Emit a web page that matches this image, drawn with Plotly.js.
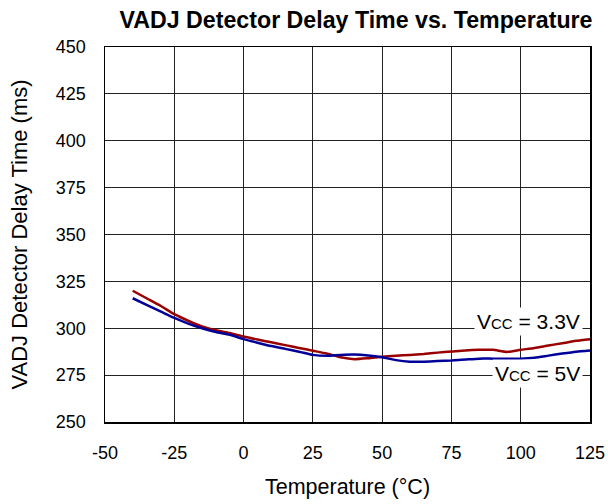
<!DOCTYPE html>
<html>
<head>
<meta charset="utf-8">
<script src="https://cdn.plot.ly/plotly-3.0.1.min.js"></script>
<style>html,body{margin:0;padding:0;background:#fff;}#chart{width:608px;height:504px;}</style>
</head>
<body>
<div id="chart"></div>
<script>
const temperature = [-40, -35, -30, -25, -20, -15, -10, -5, 0, 5, 10, 15, 20, 25, 30, 35, 40, 45, 50, 55, 60, 65, 70, 75, 80, 85, 90, 95, 100, 105, 110, 115, 120, 125];
const delay33 = [320, 316, 312, 307.5, 304, 301, 299, 297.5, 295.6, 294, 292.5, 291, 289.5, 288, 286.5, 284.5, 283.5, 284, 284.8, 285.3, 285.8, 286.3, 287, 287.6, 288.2, 288.5, 288.5, 287.4, 288.5, 289.5, 290.8, 292, 293.3, 294.2];
const delay5 = [316, 312.5, 309, 305.5, 302.5, 300, 298, 296.5, 294.2, 292.3, 290.5, 289, 287.5, 285.8, 285.3, 285.8, 286, 285.5, 284.5, 283, 282.2, 282.2, 282.5, 282.8, 283.3, 283.8, 283.8, 283.8, 283.8, 284.3, 285.4, 286.5, 287.5, 288.2];
const xTicks = [-50, -25, 0, 25, 50, 75, 100, 125];
const yTicks = [250, 275, 300, 325, 350, 375, 400, 425, 450];
const seriesNames = ['V<span style="font-size:15px">CC</span> = 3.3V', 'V<span style="font-size:15px">CC</span> = 5V'];

const FONT = 'Liberation Sans, Arial, sans-serif';

const traces = [
  {x: temperature, y: delay33, mode: 'lines', line: {color: '#990000', width: 2.5, shape: 'spline', smoothing: 0.6}, name: '3.3V', showlegend: false, hoverinfo: 'skip'},
  {x: temperature, y: delay5, mode: 'lines', line: {color: '#000099', width: 2.5, shape: 'spline', smoothing: 0.6}, name: '5V', showlegend: false, hoverinfo: 'skip'}
];

const axisCommon = {
  showline: true, linecolor: '#000', linewidth: 1.5, mirror: true,
  showgrid: true, gridcolor: '#222', gridwidth: 1,
  zeroline: false, ticks: '', fixedrange: true,
  tickfont: {family: FONT, size: 18, color: '#000'}
};

const layout = {
  width: 608, height: 504,
  paper_bgcolor: '#fff', plot_bgcolor: '#fff',
  margin: {l: 105, r: 18, t: 47, b: 82},
  title: {text: '<b>VADJ Detector Delay Time vs. Temperature</b>', font: {family: FONT, size: 23.2, color: '#000'}, x: 356/608, xanchor: 'center', xref: 'container', y: 1 - 20/504, yanchor: 'middle', yref: 'container'},
  xaxis: Object.assign({}, axisCommon, {
    range: [-50, 125], tickvals: xTicks, ticktext: xTicks.map(String), ticklabelstandoff: 14,
    title: {text: 'Temperature (°C)', font: {family: FONT, size: 21.5, color: '#000'}, standoff: 17}
  }),
  yaxis: Object.assign({}, axisCommon, {
    range: [250, 450], tickvals: yTicks, ticktext: yTicks.map(String), ticklabelstandoff: 14,
    title: {text: 'VADJ Detector Delay Time (ms)', font: {family: FONT, size: 22, color: '#000'}, standoff: 22}
  }),
  annotations: [
    {x: 122.5, y: 303.4, xref: 'x', yref: 'y', text: seriesNames[0], showarrow: false, xanchor: 'right', yanchor: 'middle', bgcolor: '#fff', borderpad: 2, font: {family: FONT, size: 21, color: '#000'}},
    {x: 122.5, y: 275.7, xref: 'x', yref: 'y', text: seriesNames[1], showarrow: false, xanchor: 'right', yanchor: 'middle', bgcolor: '#fff', borderpad: 2, font: {family: FONT, size: 21, color: '#000'}}
  ]
};

Plotly.newPlot('chart', traces, layout, {staticPlot: true, displayModeBar: false});
</script>
</body>
</html>
